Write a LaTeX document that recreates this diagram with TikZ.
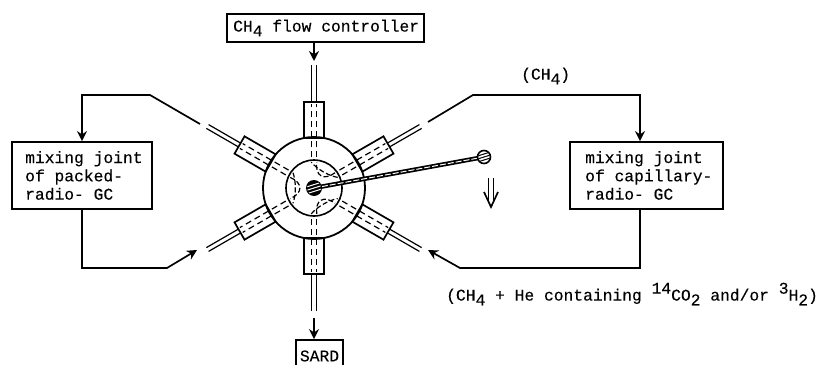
\documentclass[tikz,border=0pt]{standalone}
\usepackage{fontspec}
\setmainfont[FakeBold=0.25]{Liberation Mono}
\usetikzlibrary{positioning, arrows.meta, calc}
\newcommand{\lowt}[1]{\raisebox{-0.55ex}{#1}}
\newcommand{\upt}[1]{\raisebox{0.8ex}{#1}}

\begin{document}
\begin{tikzpicture}[
  x=1pt, y=-1pt,
  font=\fontsize{16.3}{18.3}\selectfont,
  lbl/.style={inner sep=0pt},
  boxn/.style={draw=black, line width=1.8pt, inner sep=0pt, align=left},
  pipe/.style={line width=1.2pt},
  arr/.style={-{Stealth[length=10pt, width=10pt]}, line width=1.7pt},
  chan/.style={line width=1.2pt, dash pattern=on 6pt off 4pt},
]
\useasboundingbox (0,0) rectangle (819,364);

% --- valve body ---
\coordinate (ctr) at (314,188);
\draw[line width=1.8pt] (ctr) circle (51);
\draw[line width=1.6pt] (ctr) circle (28);

% --- six ports round the body ---
\foreach \a in {90,30,-30,-90,-150,150} {
  \begin{scope}[shift={(ctr)}, rotate=-\a]
    \draw[line width=1.7pt] (50,-10) rectangle (86,10);
    \draw[pipe] (86,-2.2) -- (123,-2.2) (86,2.2) -- (123,2.2);
    \draw[chan] (31,-2.8) -- (84,-2.8) (31,2.8) -- (84,2.8);
  \end{scope}
}
% channels inside the rotor
\foreach \a in {60,180,300} {
  \begin{scope}[shift={(ctr)}, rotate=\a]
    \draw[line width=1.2pt, dash pattern=on 5pt off 2.5pt]
      (36:26) .. controls (20:19) and (-20:19) .. (-36:26)
      (24:26) .. controls (25:12) and (-25:12) .. (-24:26);
  \end{scope}
}

% --- rotor arm ---
\coordinate (hub) at (314,188);
\coordinate (tip) at (484,157);
\draw[line width=4.4pt] (hub) -- (tip);
\draw[white, line width=1pt, dash pattern=on 6pt off 2pt] (hub) -- (tip);
\fill[black] (hub) circle (8);
\begin{scope}
  \clip (hub) circle (7);
  \foreach \d in {-3.4,0,3.4}
    \draw[white, line width=1pt] ($(hub)+(-8,2.5+\d)$) -- ($(hub)+(8,-2.5+\d)$);
\end{scope}
\draw[line width=1.6pt, fill=white] (tip) circle (6.5);
\begin{scope}
  \clip (tip) circle (6);
  \foreach \d in {-3,0,3}
    \draw[line width=1pt] ($(tip)+(-8,2.5+\d)$) -- ($(tip)+(8,-2.5+\d)$);
\end{scope}

% rotation mark
\draw[line width=1.2pt] (488.5,178) -- (488.5,202) (493.5,178) -- (493.5,202);
\draw[line width=1.7pt] (484,192) -- (491,207) -- (498,192);

% --- boxes ---
\node[boxn, minimum width=197pt, minimum height=28pt] (flow) at (325.5,28) {};
\node[lbl, anchor=west] (flowt) at (233,28) {CH\lowt{4} flow controller};
\node[boxn, minimum width=140pt, minimum height=67pt] (packed) at (82,175.5) {};
\node[lbl, anchor=west, align=left] (packedt) at (25,175.5) {mixing joint\\of packed-\\radio- GC};
\node[boxn, minimum width=153pt, minimum height=67pt] (capil) at (646.5,175.5) {};
\node[lbl, anchor=west, align=left] (capilt) at (585,175.5) {mixing joint\\of capillary-\\radio- GC};
\node[boxn, minimum width=47pt, minimum height=32pt] (sard) at (319.5,356) {SARD};

% --- labels ---
\node[lbl, anchor=west] (chl) at (521,76) {(CH\lowt{4})};
\node[lbl, anchor=west] (mixl) at (446,294)
  {(CH\lowt{4} + He containing \upt{14}CO\lowt{2} and/or \upt{3}H\lowt{2})};

% --- connectors ---
\coordinate (flowout) at (flow.south -| ctr);
\coordinate (flowend) at (314,61);
\draw[arr] (flowout) -- (flowend);
\coordinate (sardin) at (sard.north -| ctr);
\coordinate (sardst) at (314,318);
\draw[arr] (sardst) -- (sardin);

\coordinate (pk1) at (200,124);
\coordinate (pk2) at (150,95);
\coordinate (pk3) at (packed.north |- pk2);
\draw[arr] (pk1) -- (pk2) -- (pk3) -- (packed.north);
\coordinate (pk4) at (packed.south |- 0,268);
\coordinate (pk5) at (167,268);
\coordinate (pk6) at (197,250);
\draw[arr] (packed.south) -- (pk4) -- (pk5) -- (pk6);

\coordinate (cp1) at (428,122);
\coordinate (cp2) at (473,95);
\coordinate (cp3) at (640,95);
\coordinate (cpin) at (cp3 |- capil.north);
\draw[arr] (cp1) -- (cp2) -- (cp3) -- (cpin);
\coordinate (cpout) at (cp3 |- capil.south);
\coordinate (cp4) at (640,268);
\coordinate (cp5) at (460,268);
\coordinate (cp6) at (428,250);
\draw[arr] (cpout) -- (cp4) -- (cp5) -- (cp6);

\end{tikzpicture}
\end{document}
